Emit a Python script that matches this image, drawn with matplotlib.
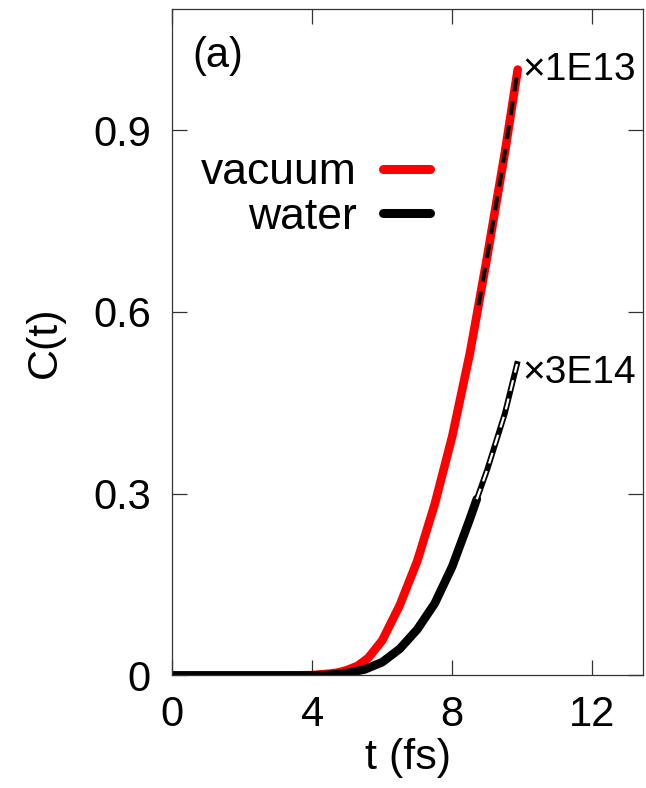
import numpy as np
import matplotlib
matplotlib.use("Agg")
import matplotlib.pyplot as plt

plt.rcParams['font.family'] = ['Liberation Sans', 'DejaVu Sans']

# correlation function C(t), normalised by the factors written next to each curve
t_vac = [0, 1, 2, 3, 4.0, 4.5, 4.75, 5.0, 5.3, 5.6, 6.0, 6.5, 7.0, 7.5, 8.0,
         8.5, 8.75, 9.0, 9.5, 9.87]
c_vac = [0, 0, 0, 0, 0.0005, 0.003, 0.005, 0.009, 0.016, 0.029, 0.058, 0.116,
         0.189, 0.283, 0.395, 0.531, 0.611, 0.692, 0.862, 1.0]

t_wat = [0, 1, 2, 3, 4.0, 4.5, 5.0, 5.5, 6.0, 6.5, 7.0, 7.5, 8.0, 8.5, 8.7,
         9.0, 9.5, 9.85]
c_wat = [0, 0, 0, 0, 0, 0.001, 0.004, 0.010, 0.022, 0.044, 0.076, 0.119, 0.180,
         0.258, 0.291, 0.340, 0.432, 0.514]

t_fit = 8.7          # start of the extrapolated part
labels = ["vacuum", "water"]
scales = ["\u00d71E13", "\u00d73E14"]
xticks = [0, 4, 8, 12]
yticks = [0, 0.3, 0.6, 0.9]

t_vac, c_vac = np.array(t_vac), np.array(c_vac)
t_wat, c_wat = np.array(t_wat), np.array(c_wat)

fig = plt.figure(figsize=(6.46, 7.88), dpi=100)
ax = fig.add_axes([0.2667, 0.1428, 0.7287, 0.8458])

lw = 6.2
ax.plot(t_vac, c_vac, color='red', lw=lw, solid_capstyle='round',
        solid_joinstyle='round', label=labels[0])
m = t_vac >= t_fit
ax.plot(t_vac[m], c_vac[m], color='black', lw=2.8, dashes=(3.6, 2.6))

w = t_wat <= t_fit
ax.plot(t_wat[w], c_wat[w], color='black', lw=lw, solid_capstyle='round',
        solid_joinstyle='round', label=labels[1])
e = t_wat >= t_fit
ax.plot(t_wat[e], c_wat[e], color='black', lw=4.2)
ax.plot(t_wat[e], c_wat[e], color='white', lw=1.6, dashes=(5, 3.5))

ax.text(t_vac[-1] + 0.12, c_vac[-1], scales[0], fontsize=28, ha='left', va='center')
ax.text(t_wat[-1] + 0.16, c_wat[-1] - 0.015, scales[1], fontsize=28, ha='left', va='center')
ax.text(0.042, 0.93, "(a)", transform=ax.transAxes, fontsize=30, ha='left', va='center')

ax.set_xlim(0, 13.45)
ax.set_ylim(0, 1.1)
ax.set_xticks(xticks)
ax.set_yticks(yticks)
ax.set_yticklabels(["0", "0.3", "0.6", "0.9"])
ax.tick_params(direction='in', length=11, width=0.9, color='#333333',
               labelsize=30, top=True, right=True, pad=14)
ax.tick_params(axis='y', pad=15.5)
for s in ax.spines.values():
    s.set_color('#333333')
    s.set_linewidth(0.9)

ax.set_xlabel("t (fs)", fontsize=31, labelpad=2)
ax.set_ylabel("C(t)", fontsize=31, labelpad=20)

leg = ax.legend(loc='center', bbox_to_anchor=(0.305, 0.721), frameon=False,
                markerfirst=False, fontsize=32, handlelength=1.06,
                handletextpad=0.59, labelspacing=0.08, borderpad=0)
for col in leg._legend_handle_box.get_children():
    col.align = "right"
for line in leg.get_lines():
    line.set_linewidth(6.5)
    line.set_solid_capstyle('round')

fig.savefig("out.png", dpi=100)
